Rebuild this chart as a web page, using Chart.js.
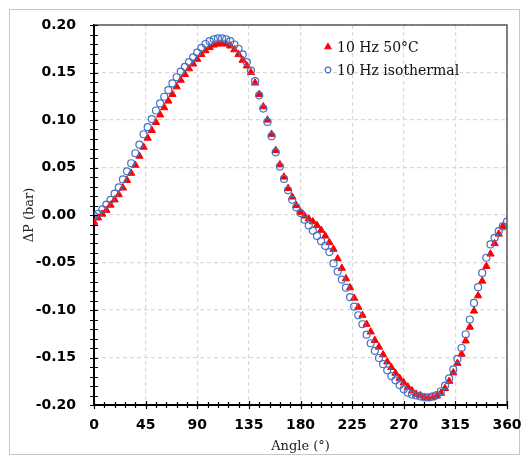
<!DOCTYPE html>
<html>
<head>
<meta charset="utf-8">
<script src="https://cdn.jsdelivr.net/npm/chart.js@4.4.1/dist/chart.umd.min.js"></script>
<style>
  html, body { margin: 0; padding: 0; background: #fff; }
  canvas { display: block; }
</style>
</head>
<body>
<canvas id="chart" width="523" height="458"></canvas>
<script>
// crank angle (°), one reading every 3.6°
const angles = [
  0, 3.6, 7.2, 10.8, 14.4, 18, 21.6, 25.2, 28.8, 32.4,
  36, 39.6, 43.2, 46.8, 50.4, 54, 57.6, 61.2, 64.8, 68.4,
  72, 75.6, 79.2, 82.8, 86.4, 90, 93.6, 97.2, 100.8, 104.4,
  108, 111.6, 115.2, 118.8, 122.4, 126, 129.6, 133.2, 136.8, 140.4,
  144, 147.6, 151.2, 154.8, 158.4, 162, 165.6, 169.2, 172.8, 176.4,
  180, 183.6, 187.2, 190.8, 194.4, 198, 201.6, 205.2, 208.8, 212.4,
  216, 219.6, 223.2, 226.8, 230.4, 234, 237.6, 241.2, 244.8, 248.4,
  252, 255.6, 259.2, 262.8, 266.4, 270, 273.6, 277.2, 280.8, 284.4,
  288, 291.6, 295.2, 298.8, 302.4, 306, 309.6, 313.2, 316.8, 320.4,
  324, 327.6, 331.2, 334.8, 338.4, 342, 345.6, 349.2, 352.8, 356.4,
  360
];

// ΔP (bar), 10 Hz 50°C
const dp50C = [
  -0.0076, -0.003, 0.001, 0.005, 0.0105, 0.016, 0.0215, 0.0285, 0.0365, 0.044,
  0.0525, 0.062, 0.0715, 0.081, 0.089, 0.0975, 0.1055, 0.113, 0.12, 0.127,
  0.135, 0.142, 0.148, 0.154, 0.159, 0.164, 0.169, 0.173, 0.1765, 0.179,
  0.18, 0.1805, 0.18, 0.178, 0.174, 0.169, 0.163, 0.157, 0.15, 0.139,
  0.127, 0.114, 0.1, 0.085, 0.068, 0.053, 0.04, 0.028, 0.019, 0.01,
  0.003, -0.001, -0.004, -0.007, -0.011, -0.016, -0.022, -0.029, -0.036, -0.046,
  -0.056, -0.067, -0.0765, -0.0875, -0.097, -0.1055, -0.115, -0.123, -0.132, -0.139,
  -0.147, -0.1545, -0.1605, -0.1665, -0.1718, -0.1766, -0.181, -0.185, -0.1885, -0.19,
  -0.192, -0.1927, -0.1923, -0.1905, -0.1875, -0.1825, -0.175, -0.166, -0.156, -0.1465,
  -0.1325, -0.118, -0.101, -0.085, -0.0695, -0.054, -0.041, -0.03, -0.02, -0.012
];

// ΔP (bar), 10 Hz isothermal
const dpIso = [
  -0.001, 0.0013, 0.006, 0.011, 0.016, 0.0225, 0.029, 0.0375, 0.046, 0.0545,
  0.065, 0.074, 0.085, 0.0925, 0.101, 0.11, 0.1175, 0.1245, 0.1315, 0.1385,
  0.145, 0.151, 0.156, 0.161, 0.166, 0.171, 0.176, 0.18, 0.183, 0.185,
  0.186, 0.186, 0.185, 0.183, 0.1795, 0.175, 0.169, 0.161, 0.152, 0.141,
  0.126, 0.112, 0.098, 0.083, 0.066, 0.051, 0.038, 0.026, 0.016, 0.008,
  0.002, -0.005, -0.011, -0.0165, -0.022, -0.0275, -0.0325, -0.039, -0.051, -0.0595,
  -0.068, -0.0765, -0.0865, -0.0965, -0.1055, -0.115, -0.126, -0.135, -0.143, -0.1505,
  -0.157, -0.1635, -0.1695, -0.174, -0.179, -0.1835, -0.187, -0.189, -0.19, -0.191,
  -0.192, -0.192, -0.191, -0.1895, -0.1855, -0.1795, -0.172, -0.1625, -0.1515, -0.14,
  -0.1255, -0.11, -0.0925, -0.076, -0.061, -0.045, -0.031, -0.024, -0.017, -0.012,
  -0.007
];

const seriesLabels = ['10 Hz 50°C', '10 Hz isothermal'];
const xTitle = 'Angle (°)';
const yTitle = 'ΔP (bar)';

const toPoints = (ys) => ys.map((y, i) => ({ x: angles[i], y }));

const red = '#ff0000';
const blue = '#4472c4';
const tickFont = { family: 'DejaVu Sans', size: 14, weight: 'bold' };
const serif = 'DejaVu Serif';

// frame, minor ticks and in-plot legend
const decor = {
  id: 'decor',
  beforeDraw(chart) {
    const { ctx } = chart;
    ctx.save();
    ctx.strokeStyle = '#c6c6c6';
    ctx.lineWidth = 1;
    ctx.strokeRect(9.5, 9.5, 510, 445);
    ctx.restore();
  },
  afterDraw(chart) {
    const { ctx, chartArea: a } = chart;
    const xs = chart.scales.x;
    const ys = chart.scales.y;
    ctx.save();

    // top / right frame
    ctx.strokeStyle = '#595959';
    ctx.lineWidth = 1.5;
    ctx.beginPath();
    ctx.moveTo(a.left, a.top);
    ctx.lineTo(a.right, a.top);
    ctx.lineTo(a.right, a.bottom);
    ctx.stroke();

    // crossing tick marks
    ctx.strokeStyle = '#000';
    ctx.lineWidth = 1.2;
    ctx.beginPath();
    for (let k = -20; k <= 20; k++) {
      const py = Math.round(ys.getPixelForValue(k / 100)) + 0.5;
      ctx.moveTo(a.left - 4, py);
      ctx.lineTo(a.left + 4, py);
    }
    for (let k = 0; k <= 40; k++) {
      const px = Math.round(xs.getPixelForValue(k * 9)) + 0.5;
      const len = k % 5 === 0 ? 4 : 3;
      ctx.moveTo(px, a.bottom - len);
      ctx.lineTo(px, a.bottom + len);
    }
    ctx.stroke();

    // legend
    const lx = 328, ly = [47, 70];
    chart.data.datasets.forEach((ds, i) => {
      ctx.fillStyle = ds.legendFill;
      ctx.strokeStyle = ds.borderColor;
      Chart.helpers.drawPoint(ctx, {
        pointStyle: ds.pointStyle,
        radius: ds.pointStyle === 'triangle' ? 3.5 : 2.8,
        rotation: 0,
        borderWidth: 1,
      }, lx, ly[i]);
      ctx.fillStyle = '#111';
      ctx.font = `14px "${serif}"`;
      ctx.textBaseline = 'middle';
      ctx.textAlign = 'left';
      ctx.fillText(ds.label, lx + 9, ly[i] + 1);
    });
    ctx.restore();
  },
};

new Chart(document.getElementById('chart'), {
  type: 'scatter',
  data: {
    datasets: [
      {
        label: seriesLabels[0],
        data: toPoints(dp50C),
        pointStyle: 'triangle',
        pointRadius: 4.2,
        backgroundColor: red,
        borderColor: red,
        borderWidth: 1,
        legendFill: red,
        order: 1,
      },
      {
        label: seriesLabels[1],
        data: toPoints(dpIso),
        pointStyle: 'circle',
        pointRadius: 3.5,
        backgroundColor: 'rgba(255,255,255,0)',
        borderColor: blue,
        borderWidth: 1.2,
        legendFill: 'rgba(255,255,255,0)',
        order: 0,
      },
    ],
  },
  options: {
    responsive: false,
    animation: false,
    layout: { padding: { top: 25, right: 16, left: 0, bottom: 0 } },
    plugins: {
      legend: { display: false },
      tooltip: { enabled: false },
    },
    scales: {
      x: {
        type: 'linear',
        min: 0,
        max: 360,
        afterFit: (s) => { s.height = 53; s.paddingLeft = 0; s.paddingRight = 0; },
        ticks: { stepSize: 45, font: tickFont, color: '#000', padding: 12, maxRotation: 0 },
        grid: { color: '#d9d9d9', lineWidth: 1.2, drawTicks: false },
        border: { color: '#000', width: 2, dash: [4, 3] },
        title: { display: true, text: xTitle, font: { family: serif, size: 13 }, color: '#222', padding: { top: 0, bottom: 4 } },
      },
      y: {
        type: 'linear',
        min: -0.2,
        max: 0.2,
        afterFit: (s) => { s.width = 94; s.paddingTop = 0; s.paddingBottom = 0; },
        ticks: {
          stepSize: 0.05,
          font: tickFont,
          color: '#000',
          padding: 18,
          callback: (v) => (Math.abs(v) < 1e-9 ? 0 : v).toFixed(2),
        },
        grid: { color: '#d9d9d9', lineWidth: 1.2, drawTicks: false },
        border: { color: '#000', width: 2, dash: [4, 3] },
        title: { display: true, text: yTitle, font: { family: serif, size: 13 }, color: '#222', padding: { top: 22, bottom: 0 } },
      },
    },
  },
  plugins: [decor],
});
</script>
</body>
</html>
